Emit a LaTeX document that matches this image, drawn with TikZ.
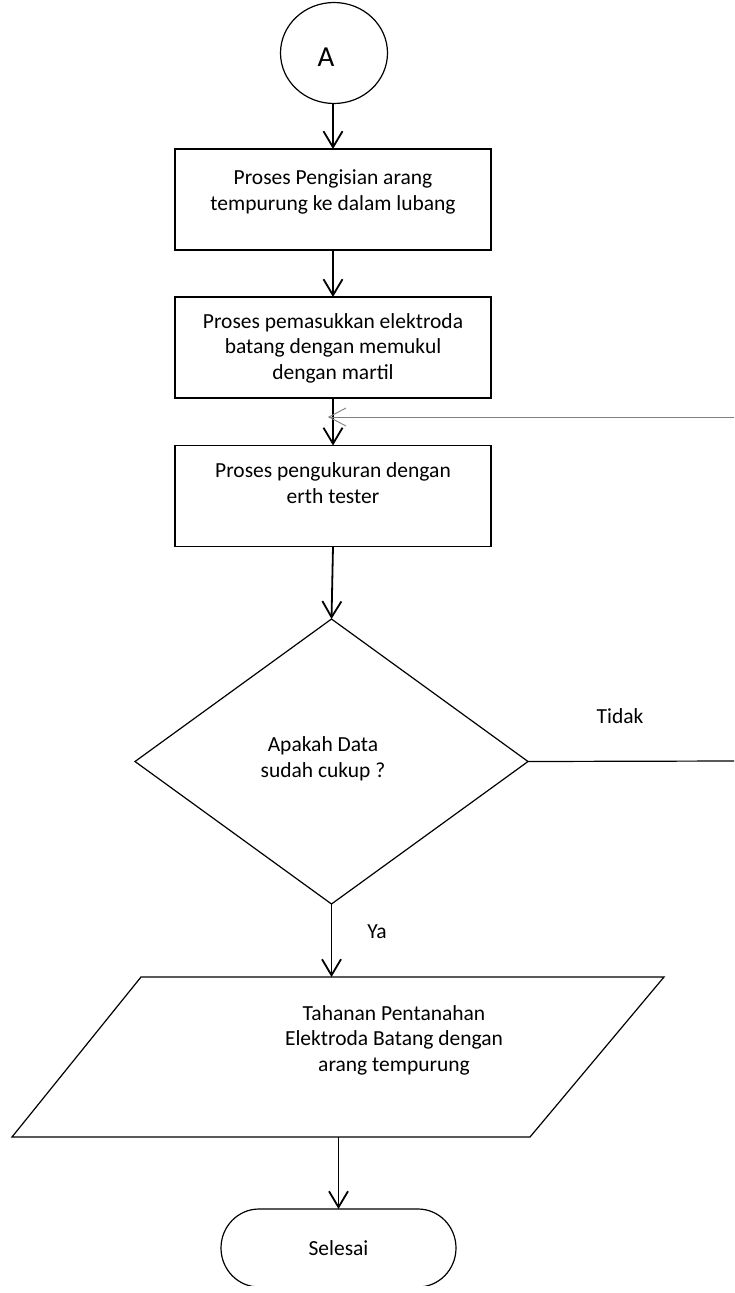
\documentclass[tikz,border=0pt]{standalone}
\usepackage{fontspec}
\setmainfont{Carlito}
\usetikzlibrary{arrows.meta,shapes.geometric,calc}
\begin{document}
\begin{tikzpicture}[x=1pt,y=-1pt,
  every node/.style={inner sep=0pt, outer sep=0pt},
  txt/.style={font=\fontsize{21.5}{25.5}\selectfont, align=center},
  procbox/.style={draw, line width=1.2pt, minimum width=316pt, minimum height=101pt},
  shapeline/.style={draw, line width=1.2pt},
  flow/.style={line width=1.8pt, -{Straight Barb[length=16pt,width=19pt]}},
  backflow/.style={line width=0.9pt, draw=black!50, -{Straight Barb[length=17pt,width=18pt]}},
  plainline/.style={line width=1.2pt}
]
\useasboundingbox (0,0) rectangle (734,1293);

% start connector
\node[ellipse, shapeline, minimum width=107pt, minimum height=101pt] (start) at (334,53) {};
\node[font=\fontsize{29}{34}\selectfont] (startlbl) at (326,57) {A};

% process steps
\node[procbox] (fill) at (333,199.5) {};
\node[txt] (filltxt) at (333,192) {Proses Pengisian arang\\tempurung ke dalam lubang};

\node[procbox] (drive) at (333,347.5) {};
\node[txt] (drivetxt) at (333,348) {Proses pemasukkan elektroda\\batang dengan memukul\\dengan martil};

\node[procbox] (measure) at (333,496) {};
\node[txt] (measuretxt) at (333,483) {Proses pengukuran dengan\\erth tester};

% decision
\node[diamond, shapeline, minimum width=393pt, minimum height=285pt] (check) at (331.5,761.5) {};
\node[txt] (checktxt) at (323,759) {Apakah Data\\sudah cukup ?};

% output (parallelogram drawn on the node's bounding box)
\node[minimum width=652pt, minimum height=160pt] (result) at (338,1057) {};
\draw[line width=1.2pt]
  ([xshift=129pt]result.north west) -- (result.north east)
  -- ([xshift=-134pt]result.south east) -- (result.south west) -- cycle;
\node[txt] (resulttxt) at (394,1040) {Tahanan Pentanahan\\Elektroda Batang dengan\\arang tempurung};

% end terminator
\node[txt, minimum width=235pt, minimum height=78pt] (finish) at (338.5,1248) {Selesai};
\begin{scope}
  \clip (0,1200) rectangle (734,1285);
  \draw[line width=1.2pt]
    ([xshift=38pt]finish.north west) -- ([xshift=-38pt]finish.north east)
    arc[start angle=90, end angle=-90, x radius=38pt, y radius=39pt]
    -- ([xshift=38pt]finish.south west)
    arc[start angle=270, end angle=90, x radius=38pt, y radius=39pt] -- cycle;
\end{scope}

% branch labels
\node[txt] (nolbl) at (620,716) {Tidak};
\node[txt] (yeslbl) at (377,932) {Ya};

% loose ends at the right margin
\coordinate (loopend) at (734,761);
\coordinate (loopstart) at (734,417);

% connectors
\draw[flow] (start.south) -- (start.south -| fill.north) -- (fill.north);
\draw[flow] (fill.south) -- (drive.north);
\draw[flow] (drive.south) -- (measure.north);
\draw[flow] (measure.south) -- (check.north);
\draw[flow] (check.south) -- (check.south |- result.north);
\draw[flow] (result.south -| finish.north) -- (finish.north);
\draw[plainline] (check.east) -- (loopend);
\draw[backflow, shorten >=-5pt] (loopstart) -- (loopstart -| drive.south);
\end{tikzpicture}
\end{document}
